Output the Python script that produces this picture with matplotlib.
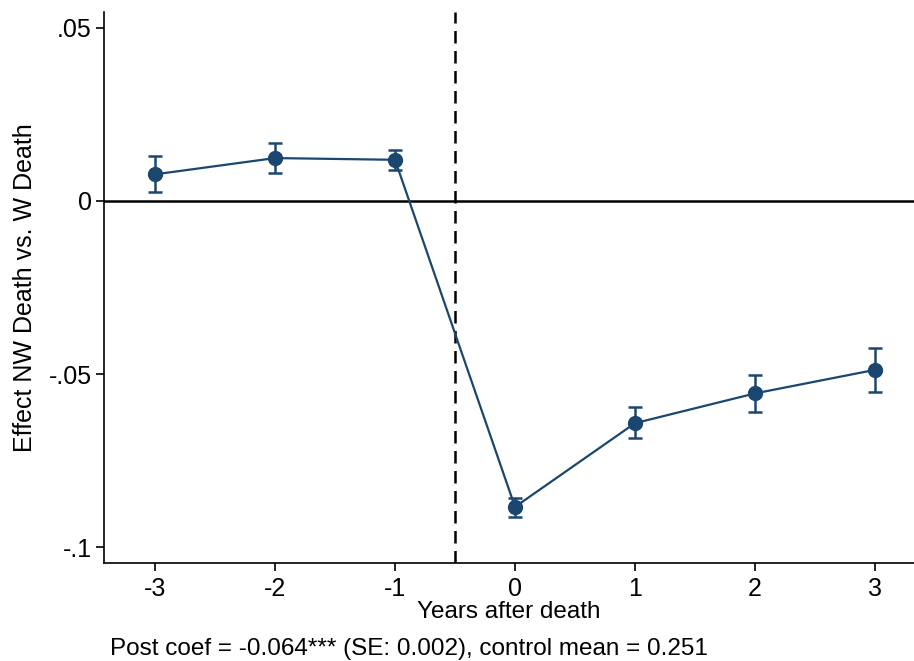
import matplotlib.pyplot as plt
from matplotlib.ticker import FixedLocator

plt.rcParams['font.family'] = ['Liberation Sans', 'DejaVu Sans']

years = [-3, -2, -1, 0, 1, 2, 3]
coef = [0.0077, 0.0124, 0.0119, -0.0884, -0.0642, -0.0556, -0.0488]
ci_hi = [0.0130, 0.0167, 0.0147, -0.0857, -0.0596, -0.0502, -0.0424]
ci_lo = [0.0025, 0.0081, 0.0090, -0.0912, -0.0686, -0.0611, -0.0551]
yticks = [0.05, 0, -0.05, -0.1]
ytick_labels = ['.05', '0', '-.05', '-.1']
note = 'Post coef = -0.064*** (SE: 0.002), control mean = 0.251'

navy = '#1a476f'

fig = plt.figure(figsize=(9.14, 6.61), dpi=100)
ax = fig.add_axes([0.1138, 0.1483, 0.8862, 0.8335])

err = [[c - l for c, l in zip(coef, ci_lo)], [h - c for c, h in zip(coef, ci_hi)]]
ax.errorbar(years, coef, yerr=err, fmt='none', ecolor=navy, elinewidth=1.8,
            capsize=5, capthick=1.8, zorder=3)
ax.plot(years, coef, color=navy, lw=1.6, marker='o', ms=10, zorder=4)

ax.axhline(0, color='black', lw=1.8, zorder=2)
ax.axvline(-0.5, color='black', lw=1.8, ls=(0, (5, 3)), zorder=2)

ax.set_xlim(-3.425, 3.325)
ax.set_ylim(-0.1046, 0.0546)
ax.set_xticks(years)
ax.set_xticklabels([str(y) for y in years])
ax.yaxis.set_major_locator(FixedLocator(yticks))
ax.set_yticklabels(ytick_labels)
ax.tick_params(axis='both', labelsize=18, length=6, width=1.2, direction='out')
ax.tick_params(axis='x', pad=4)
ax.tick_params(axis='y', pad=3)

for s in ['top', 'right']:
    ax.spines[s].set_visible(False)
for s in ['left', 'bottom']:
    ax.spines[s].set_linewidth(1.2)

ax.set_xlabel('Years after death', fontsize=17.5, labelpad=0)
ax.set_ylabel('Effect NW Death vs. W Death', fontsize=18, labelpad=8)
fig.text(0.12, 0.002, note, fontsize=17.5, ha='left', va='bottom')

fig.savefig('out.png', dpi=100)
